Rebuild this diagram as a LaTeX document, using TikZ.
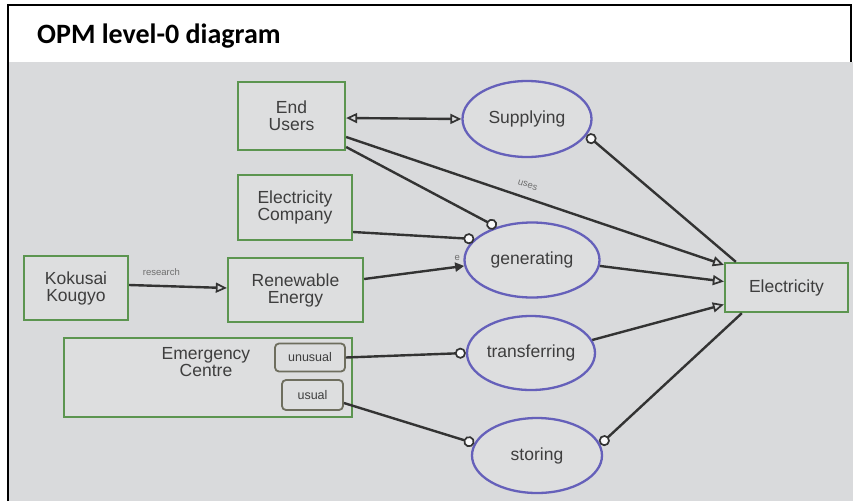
\documentclass[tikz,border=0pt]{standalone}
\usepackage{fontspec}
\setmainfont{Liberation Sans}
\newfontfamily\titlefont{Carlito}
\usetikzlibrary{arrows.meta,shapes.geometric}

\definecolor{bgcol}{HTML}{D9DADC}
\definecolor{boxfill}{HTML}{DDDEDF}
\definecolor{objgreen}{HTML}{5C9550}
\definecolor{procblue}{HTML}{6560BA}
\definecolor{linecol}{HTML}{333333}
\definecolor{txtcol}{HTML}{3E3E3E}
\definecolor{statecol}{HTML}{6E6E5E}

\tikzset{
  object/.style={rectangle, draw=objgreen, line width=2.3pt, fill=boxfill,
    align=center, text=txtcol, inner sep=0pt,
    font=\fontsize{17.5}{17}\selectfont},
  process/.style={ellipse, draw=procblue, line width=2.3pt, fill=boxfill,
    align=center, text=txtcol, inner sep=0pt,
    font=\fontsize{17.5}{17}\selectfont},
  statebox/.style={rectangle, rounded corners=4pt, draw=statecol,
    line width=1.8pt, fill=boxfill, text=txtcol, inner sep=0pt,
    font=\fontsize{12.5}{13}\selectfont},
  link/.style={draw=linecol, line width=2.4pt},
  opentip/.style={-{Triangle[open,length=11pt,width=10pt,fill=bgcol,line width=1.7pt]}},
  bothtip/.style={{Triangle[open,length=11pt,width=10pt,fill=bgcol,line width=1.7pt]}-{Triangle[open,length=11pt,width=10pt,fill=bgcol,line width=1.7pt]}},
  agenttip/.style={-{Circle[open,length=11pt,fill=white!85!bgcol,line width=1.7pt]}},
  agentstart/.style={{Circle[open,length=11pt,fill=white!85!bgcol,line width=1.7pt]}-},
  linklabel/.style={text=txtcol!75, font=\fontsize{9.5}{10}\selectfont, inner sep=1pt}
}

\begin{document}
\begin{tikzpicture}[x=1pt,y=-1pt]
\useasboundingbox (0,0) rectangle (853,501);
% page and diagram canvas
\fill[white] (0,0) rectangle (853,501);
\fill[bgcol] (9,62) rectangle (853,501);
\draw[black, line width=2.5pt] (8,501) -- (8,5) -- (851,5) -- (851,62);
\node[anchor=base west, inner sep=0pt, font=\titlefont\bfseries\fontsize{28}{30}\selectfont]
  (title) at (37,43) {OPM level-0 diagram};

% objects
\node[object, minimum width=107pt, minimum height=68pt] (eu) at (291.5,116) {End\\Users};
\node[object, minimum width=114pt, minimum height=65pt] (ec) at (295,207.5) {Electricity\\Company};
\node[object, minimum width=104pt, minimum height=64pt] (kk) at (76,288) {Kokusai\\Kougyo};
\node[object, minimum width=135pt, minimum height=64pt] (re) at (295.5,290) {Renewable\\Energy};
\node[object, minimum width=123pt, minimum height=49pt] (el) at (786.5,287.5) {Electricity};
\node[object, minimum width=288pt, minimum height=79pt] (em) at (208,377.5) {};
\node[text=txtcol, align=center, font=\fontsize{17.5}{17}\selectfont] (emt) at (206,362) {Emergency\\Centre};
\node[statebox, minimum width=70pt, minimum height=28pt] (unusual) at (310,357.5) {unusual};
\node[statebox, minimum width=61pt, minimum height=30pt] (usual) at (312.5,395) {usual};

% processes
\node[process, minimum width=129pt, minimum height=76pt] (sup) at (527,119) {Supplying};
\node[process, minimum width=135pt, minimum height=75pt] (gen) at (532,260) {generating};
\node[process, minimum width=128pt, minimum height=74pt] (tra) at (531,353) {transferring};
\node[process, minimum width=130pt, minimum height=75pt] (sto) at (537,455.5) {storing};

% links
\draw[link, bothtip] ([yshift=-2pt]eu.east) -- (sup.west);
\draw[link, agentstart] (sup.-15) -- ([xshift=12pt]el.north west);
\draw[link, opentip] ([yshift=-21pt]eu.east) -- node[linklabel, sloped, above=8pt, pos=0.47] (uses) {uses} ([yshift=-3pt]el.north west);
\draw[link, agenttip] ([yshift=-31pt]eu.east) -- (gen.137);
\draw[link, agenttip] ([yshift=-24.5pt]ec.east) -- (gen.160);
\draw[link, opentip] ([yshift=3pt]kk.east) -- node[linklabel, above=8pt, pos=0.33] (research) {research} ([yshift=2pt]re.west);
\draw[link, -{Triangle[length=9pt,width=9pt]}] ([yshift=11pt]re.east) -- node[linklabel, pos=0.93, above=4pt] (ev) {e} (gen.185);
\draw[link, opentip] (gen.-5) -- ([yshift=6pt]el.west);
\draw[link, agenttip] (unusual.east) -- (tra.west);
\draw[link, opentip] (tra.12) -- ([yshift=-17pt]el.west);
\draw[link, agenttip] ([yshift=-8pt]usual.east) -- (sto.169);
\draw[link, agentstart] (sto.10) -- ([xshift=18pt]el.south west);
\end{tikzpicture}
\end{document}
